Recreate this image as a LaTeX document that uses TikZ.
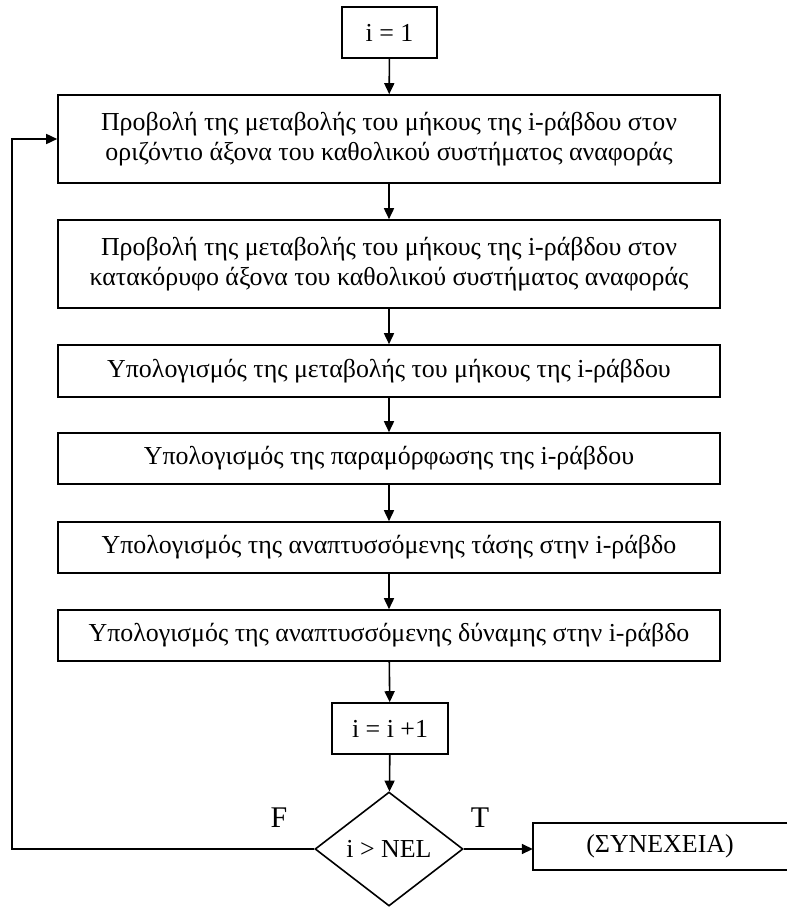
\documentclass[tikz,border=0pt]{standalone}
\usepackage{fontspec}
\setmainfont{Liberation Serif}
\usetikzlibrary{shapes.geometric,arrows.meta}
\begin{document}
\begin{tikzpicture}[x=1pt,y=-1pt,
  every node/.style={font=\fontsize{25.9}{30}\selectfont},
  stepbox/.style={draw, line width=1.6pt, minimum width=662pt, align=center, inner sep=0pt},
  smallbox/.style={draw, line width=1.6pt, inner sep=0pt, minimum height=51pt},
  decision/.style={draw, diamond, line width=1.6pt, minimum width=148pt, minimum height=114pt, inner sep=0pt},
  branchlabel/.style={font=\fontsize{30}{34}\selectfont},
  conn/.style={line width=1.6pt, -{Triangle[length=11pt,width=10pt]}},
  plain/.style={line width=1.6pt}]
\useasboundingbox (0,0) rectangle (787,907);
\node[smallbox, minimum width=95pt] (i1) at (389.5,32.5) {i = 1};
\node[stepbox, minimum height=88pt] (b1) at (389,139) {Προβολή της μεταβολής του μήκους της i-ράβδου στον\\οριζόντιο άξονα του καθολικού συστήματος αναφοράς};
\node[stepbox, minimum height=88pt] (b2) at (389,264) {Προβολή της μεταβολής του μήκους της i-ράβδου στον\\κατακόρυφο άξονα του καθολικού συστήματος αναφοράς};
\node[stepbox, minimum height=52pt] (b3) at (389,371) {Υπολογισμός της μεταβολής του μήκους της i-ράβδου};
\node[stepbox, minimum height=51pt] (b4) at (389,458.5) {Υπολογισμός της παραμόρφωσης της i-ράβδου};
\node[stepbox, minimum height=51pt] (b5) at (389,547.5) {Υπολογισμός της αναπτυσσόμενης τάσης στην i-ράβδο};
\node[stepbox, minimum height=51pt] (b6) at (389,635.5) {Υπολογισμός της αναπτυσσόμενης δύναμης στην i-ράβδο};
\node[smallbox, minimum width=116pt] (ii) at (390,728.5) {i = i +1};
\node[decision] (d) at (389,849) {i > NEL};
\node[inner sep=0pt, minimum width=254pt, minimum height=47pt] (S) at (660,846.5) {(ΣΥΝΕΧΕΙΑ)};
\draw[plain] (S.north east) -- (S.north west) -- (S.south west) -- (S.south east);
\node[branchlabel] (F) at (279,818) {F};
\node[branchlabel] (T) at (480,818) {T};
\coordinate (lp) at (12,0);
\draw[conn] (i1) -- (b1);
\draw[conn] (b1) -- (b2);
\draw[conn] (b2) -- (b3);
\draw[conn] (b3) -- (b4);
\draw[conn] (b4) -- (b5);
\draw[conn] (b5) -- (b6);
\draw[conn] (b6) -- (ii);
\draw[conn] (ii) -- (d);
\draw[conn] (d.east) -- (d.east -| S.west);
\draw[conn] (d.west) -- (d.west -| lp) |- (b1.west);
\end{tikzpicture}
\end{document}
